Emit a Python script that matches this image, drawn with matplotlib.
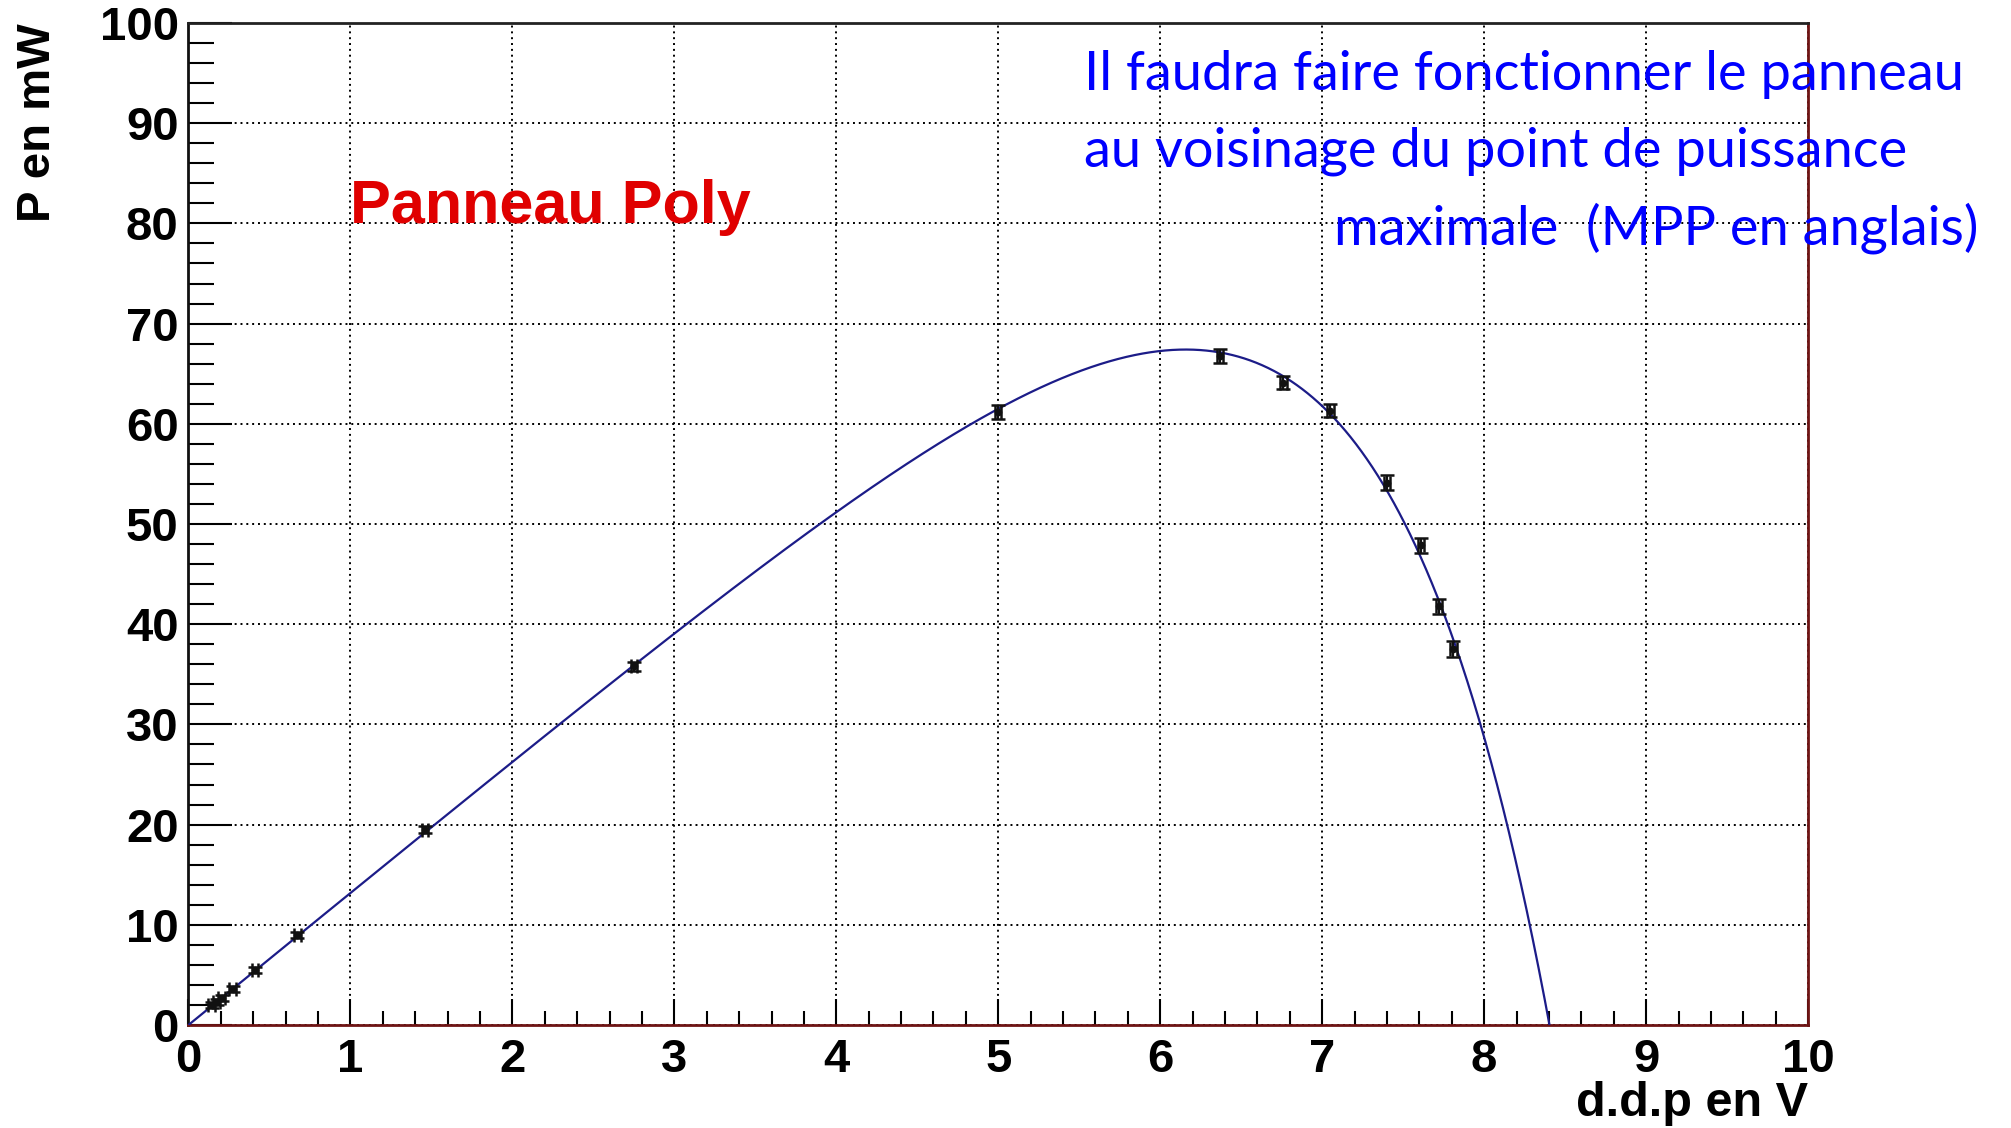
import numpy as np
import matplotlib
matplotlib.use("Agg")
import matplotlib.pyplot as plt
from matplotlib.ticker import MultipleLocator

# Measured points of the polycrystalline panel: voltage (V) and power (mW)
volts = [0.143, 0.174, 0.205, 0.273, 0.41, 0.672, 1.46, 2.75,
         5.00, 6.37, 6.76, 7.05, 7.40, 7.61, 7.72, 7.81]
power = [2.0, 2.33, 2.67, 3.63, 5.5, 9.03, 19.5, 35.8,
         61.2, 66.8, 64.1, 61.3, 54.1, 47.9, 41.8, 37.5]
power_err = [0.3, 0.3, 0.3, 0.3, 0.3, 0.3, 0.35, 0.45,
             0.7, 0.7, 0.65, 0.65, 0.75, 0.75, 0.75, 0.8]
volt_err = [0.02] * len(volts)

x_ticks = [0, 1, 2, 3, 4, 5, 6, 7, 8, 9, 10]
y_ticks = [0, 10, 20, 30, 40, 50, 60, 70, 80, 90, 100]

note_lines = ["Il faudra faire fonctionner le panneau",
              "au voisinage du point de puissance",
              "maximale  (MPP en anglais)"]

# Single-diode model P = V * (Isc - I0 * (exp(V/a) - 1)), fitted to the points
V = np.asarray(volts)
P = np.asarray(power)
W = 1.0 / np.asarray(power_err)
best = None
for a in np.linspace(0.8, 2.5, 1701):
    A = np.column_stack([V, -V * (np.exp(V / a) - 1.0)]) * W[:, None]
    coef, *_ = np.linalg.lstsq(A, P * W, rcond=None)
    chi2 = np.sum((A @ coef - P * W) ** 2)
    if best is None or chi2 < best[0]:
        best = (chi2, a, coef)
_, a_fit, (isc_fit, i0_fit) = best

def model(v):
    return v * (isc_fit - i0_fit * (np.exp(v / a_fit) - 1.0))

plt.rcParams["font.family"] = ["Liberation Sans", "DejaVu Sans"]

fig = plt.figure(figsize=(20.11, 11.28), dpi=100)
ax = fig.add_axes([0.0937, 0.0913, 0.8054, 0.8883])

ax.set_xlim(0, 10)
ax.set_ylim(0, 100)

# Fitted curve
vv = np.linspace(0, 10, 3000)
ax.plot(vv, model(vv), color="#1c1c88", lw=1.6, zorder=3)

# Measurements with error bars
ax.errorbar(volts, power, yerr=power_err, xerr=volt_err, fmt="o",
            color="#111111", ms=4.5, elinewidth=1.6, capsize=5,
            capthick=1.8, zorder=4)

# Grid and ticks
ax.set_xticks(x_ticks)
ax.set_yticks(y_ticks)
ax.xaxis.set_minor_locator(MultipleLocator(0.2))
ax.yaxis.set_minor_locator(MultipleLocator(2))
ax.grid(True, which="major", color="black", linestyle=(0, (1, 2.0)), lw=1.4)
ax.set_axisbelow(True)

tick_font = dict(fontsize=34, fontweight="bold")
ax.set_xticklabels([str(t) for t in x_ticks], **tick_font)
ax.set_yticklabels([str(t) for t in y_ticks], **tick_font)
ax.tick_params(axis="x", which="major", direction="in", length=19, width=1.5,
               pad=9, top=False)
ax.tick_params(axis="x", which="minor", direction="in", length=10, width=1.5,
               top=False)
ax.tick_params(axis="y", which="major", direction="in", length=32, width=1.5,
               pad=7, right=False)
ax.tick_params(axis="y", which="minor", direction="in", length=19, width=1.5,
               right=False)

for side, col in (("top", "#222222"), ("left", "#111111"),
                  ("bottom", "#6e1414"), ("right", "#6e1414")):
    ax.spines[side].set_color(col)
    ax.spines[side].set_linewidth(2.0)

# Axis titles
ax.text(-0.093, 1.0, "P en mW", transform=ax.transAxes, rotation=90,
        ha="center", va="top", fontsize=34, fontweight="bold")
ax.text(1.0, -0.078, "d.d.p en V", transform=ax.transAxes,
        ha="right", va="center", fontsize=35, fontweight="bold")

# Panel name
ax.text(1.0, 80, "Panneau Poly", color="#e00000", fontsize=44,
        fontweight="bold", ha="left", va="baseline", zorder=5)

# Note about the maximum power point
note_x = [0.539, 0.539, 0.6633]
note_y = [1 - 90 / 1128, 1 - 167 / 1128, 1 - 244 / 1128]
for txt, nx, ny in zip(note_lines, note_x, note_y):
    fig.text(nx, ny, txt, color="#0000ff", fontsize=39,
             family=["Lato", "DejaVu Sans"], fontweight="normal",
             ha="left", va="baseline")

fig.savefig("out.png", dpi=100, facecolor="white")
